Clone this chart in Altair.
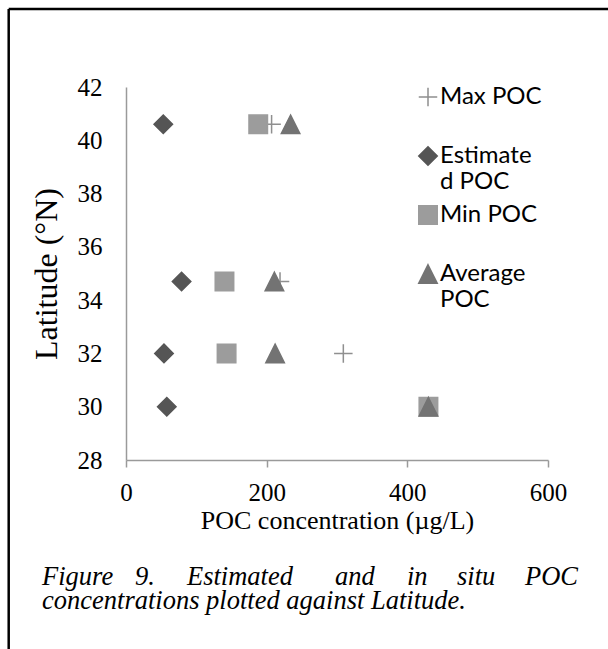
import altair as alt
import pandas as pd

# ---- data ----
latitude = [40.6, 34.7, 32.0, 30.0]
max_poc = [207, 219, 309, 430]
estimated_poc = [53, 79, 54, 58]
min_poc = [188, 140, 143, 430]
average_poc = [234, 211, 212, 430]

series_names = ["Max POC", "Estimated POC", "Min POC", "Average POC"]
series_values = [max_poc, estimated_poc, min_poc, average_poc]
series_colors = ["#8f8f8f", "#555555", "#9c9c9c", "#737373"]
series_shapes = ["M-1,0H1M0,-1V1", "diamond", "square", "M0,-1L1,1L-1,1Z"]

x_ticks = [0, 200, 400, 600]
y_ticks = [28, 30, 32, 34, 36, 38, 40, 42]
x_title = "POC concentration (µg/L)"
y_title = "Latitude (°N)"
caption_line1 = ["Figure", "9.", "Estimated", "and", "in", "situ", "POC"]
caption_line2 = "concentrations plotted against Latitude."

rows = []
for k, (name, vals) in enumerate(zip(series_names, series_values)):
    for lat, v in zip(latitude, vals):
        rows.append({"series": name, "order": k, "lat": lat, "poc": v})
df = pd.DataFrame(rows)

# ---- layout (pixels) ----
PL, PT, PW, PH = 126, 87, 422, 373
SERIF = "Liberation Serif"

leg = alt.Legend(
    orient="none", legendX=290, legendY=-2, title=None, padding=0,
    rowPadding=8, gridAlign="all", labelFont="Lato", labelFontSize=24,
    labelColor="black", labelOffset=0, labelLimit=400, symbolSize=342,
    symbolStrokeWidth=1.5, labelBaseline="middle",
    labelExpr=("datum.label == 'Estimated POC' ? ['Estimate', 'd POC'] : "
               "datum.label == 'Average POC' ? ['Average', 'POC'] : datum.label"),
)

points = alt.Chart(df).mark_point(filled=True, size=342, strokeWidth=1.5, opacity=1).encode(
    x=alt.X("poc:Q", scale=alt.Scale(domain=[0, 600], nice=False),
            axis=alt.Axis(values=x_ticks, title=x_title, grid=False,
                          domainColor="#9a9a9a", domainWidth=1.5,
                          tickColor="#9a9a9a", tickWidth=1.5, tickSize=7,
                          labelFont=SERIF, labelFontSize=25, labelColor="black",
                          labelPadding=13, labelFlush=False,
                          titleFont=SERIF, titleFontSize=26, titleFontWeight="normal",
                          titleColor="black", titlePadding=2)),
    y=alt.Y("lat:Q", scale=alt.Scale(domain=[28, 42], nice=False, zero=False),
            axis=alt.Axis(values=y_ticks, title=y_title, grid=False, ticks=False,
                          domainColor="#9a9a9a", domainWidth=1.5,
                          labelFont=SERIF, labelFontSize=25, labelColor="black",
                          labelPadding=24, labelFlush=False,
                          titleFont=SERIF, titleFontSize=32, titleFontWeight="normal",
                          titleColor="black", titlePadding=14)),
    fill=alt.Fill("series:N", scale=alt.Scale(domain=series_names, range=series_colors), legend=leg),
    stroke=alt.Stroke("series:N", scale=alt.Scale(domain=series_names, range=series_colors), legend=leg),
    shape=alt.Shape("series:N", scale=alt.Scale(domain=series_names, range=series_shapes), legend=leg),
    order=alt.Order("order:Q"),
)

one = pd.DataFrame({"k": [0]})
frame_left = alt.Chart(one).mark_rule(color="black", strokeWidth=2.5).encode(
    x=alt.value(8.7 - PL), y=alt.value(9 - PT), y2=alt.value(649 - PT))
frame_top = alt.Chart(one).mark_rule(color="black", strokeWidth=2.5).encode(
    x=alt.value(8.7 - PL), x2=alt.value(608 - PL), y=alt.value(9 - PT))

# word anchors on the justified first caption line: (x, align)
word_pos = [(42, "left"), (135, "left"), (240, "center"), (335, "left"),
            (407, "left"), (457, "left"), (578, "right")]
cap_layers = []
for w, (px, al) in zip(caption_line1, word_pos):
    cap_layers.append(alt.Chart(one).mark_text(
        font=SERIF, fontStyle="italic", fontSize=26.5, color="black",
        align=al, baseline="alphabetic").encode(
        x=alt.value(px - PL), y=alt.value(585 - PT), text=alt.value(w)))
cap_layers.append(alt.Chart(one).mark_text(
    font=SERIF, fontStyle="italic", fontSize=26.5, color="black",
    align="left", baseline="alphabetic").encode(
    x=alt.value(42 - PL), y=alt.value(609 - PT), text=alt.value(caption_line2)))

chart = alt.layer(points, frame_left, frame_top, *cap_layers).properties(
    width=PW, height=PH,
    autosize=alt.AutoSizeParams(type="none"),
    padding={"left": PL, "top": PT, "right": 608 - PL - PW, "bottom": 649 - PT - PH},
    background="white",
).configure_view(strokeWidth=0)

chart.save("out.html", embed_options={"renderer": "svg", "actions": False})
